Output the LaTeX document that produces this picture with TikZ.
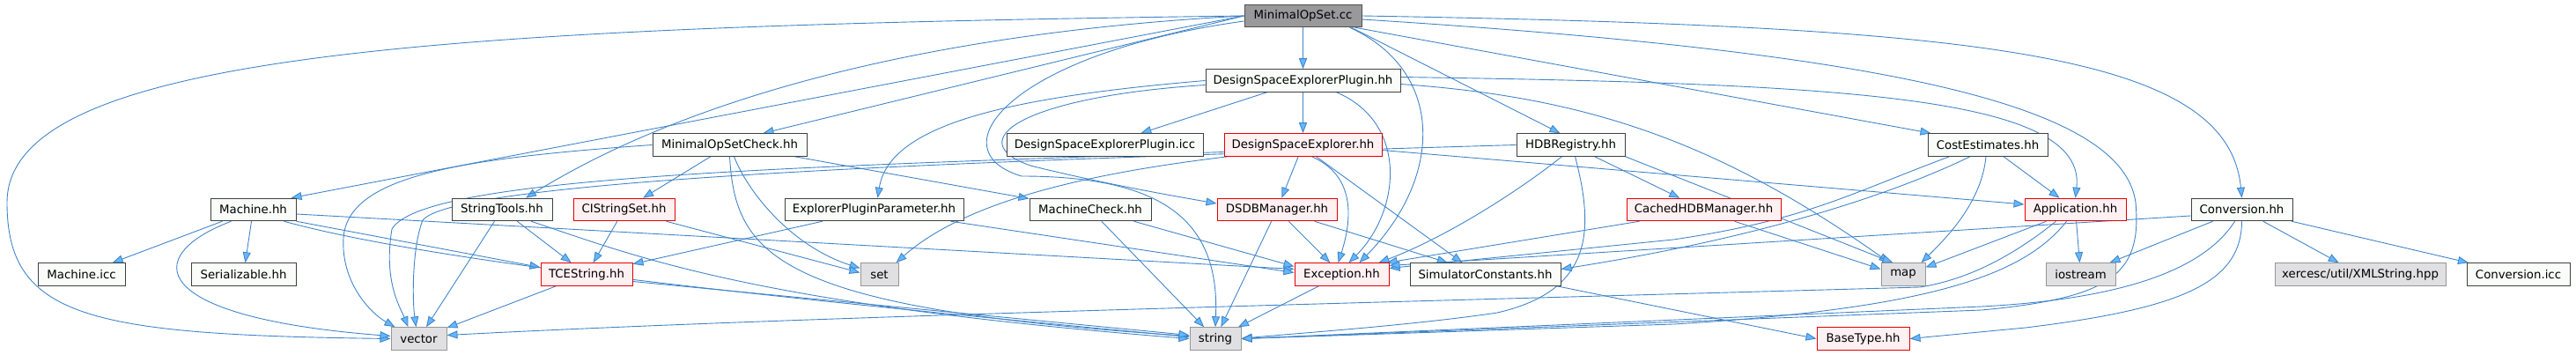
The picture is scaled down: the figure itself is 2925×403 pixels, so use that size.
\documentclass[tikz,border=0pt]{standalone}
\usepackage{fontspec}
\setmainfont{DejaVu Sans}
\usetikzlibrary{arrows.meta,calc}
\definecolor{dedge}{RGB}{66,133,200}
\definecolor{dtip}{RGB}{99,184,255}
\definecolor{dbord}{RGB}{64,64,64}
\definecolor{dfill}{RGB}{250,252,250}
\definecolor{rbord}{RGB}{230,0,0}
\definecolor{rfill}{RGB}{255,240,242}
\definecolor{sbord}{RGB}{150,150,150}
\definecolor{sfill}{RGB}{224,224,226}
\definecolor{tfill}{RGB}{153,153,155}
\definecolor{tbord}{RGB}{80,80,80}
\tikzset{
  incgraph/.style={x=1pt,y=-1pt,font=\fontsize{13.3}{16}\selectfont},
  hdr/.style={draw=dbord,fill=dfill,line width=1pt,minimum height=25.5pt,inner sep=0pt},
  redhdr/.style={hdr,draw=rbord,fill=rfill},
  syshdr/.style={hdr,draw=sbord,fill=sfill},
  srchdr/.style={hdr,draw=tbord,fill=tfill},
  dep/.style={draw=dedge,line width=0.9pt,-{Triangle[length=12pt,width=9pt,fill=dtip]}}
}
\pgfdeclarelayer{edges}
\pgfsetlayers{edges,main}

\begin{document}
\begin{tikzpicture}[incgraph]
    \useasboundingbox (0,0) rectangle (2925,403);
    % rank 0 and 1
    \node[srchdr,minimum width=133] (top) at (1479.5,18) {MinimalOpSet.cc};
    \node[hdr,minimum width=221] (dsep) at (1479.5,91.5) {DesignSpaceExplorerPlugin.hh};
    % rank 2
    \node[hdr,minimum width=175] (mosc) at (828.5,164.5) {MinimalOpSetCheck.hh};
    \node[hdr,minimum width=223] (dseicc) at (1254.5,164.5) {DesignSpaceExplorerPlugin.icc};
    \node[redhdr,minimum width=179] (dse) at (1479.5,164.5) {DesignSpaceExplorer.hh};
    \node[hdr,minimum width=123] (hdbr) at (1783.5,164.5) {HDBRegistry.hh};
    \node[hdr,minimum width=136] (cost) at (2257,164.5) {CostEstimates.hh};
    % rank 3
    \node[hdr,minimum width=97] (machine) at (287.5,238) {Machine.hh};
    \node[hdr,minimum width=114] (strtools) at (570,238) {StringTools.hh};
    \node[redhdr,minimum width=115] (cistr) at (708.5,238) {CIStringSet.hh};
    \node[hdr,minimum width=203] (epp) at (992.5,238) {ExplorerPluginParameter.hh};
    \node[hdr,minimum width=138] (mcheck) at (1238,238) {MachineCheck.hh};
    \node[redhdr,minimum width=136] (dsdb) at (1450,238) {DSDBManager.hh};
    \node[redhdr,minimum width=175] (chdb) at (1934.5,238) {CachedHDBManager.hh};
    \node[redhdr,minimum width=115] (app) at (2356.5,238) {Application.hh};
    \node[hdr,minimum width=115] (conv) at (2545.5,238) {Conversion.hh};
    % rank 4
    \node[hdr,minimum width=99] (micc) at (92.5,311.5) {Machine.icc};
    \node[hdr,minimum width=119] (serial) at (276.5,311.5) {Serializable.hh};
    \node[redhdr,minimum width=104] (tcestr) at (666,311.5) {TCEString.hh};
    \node[syshdr,minimum width=43] (set) at (998.5,311.5) {set};
    \node[redhdr,minimum width=107] (exc) at (1523.5,311.5) {Exception.hh};
    \node[hdr,minimum width=171] (simc) at (1686.5,311.5) {SimulatorConstants.hh};
    \node[syshdr,minimum width=50] (map) at (2161,311.5) {map};
    \node[syshdr,minimum width=79] (iostream) at (2362.5,311.5) {iostream};
    \node[syshdr,minimum width=194] (xerces) at (2680,311.5) {xercesc/util/XMLString.hpp};
    \node[hdr,minimum width=117] (convicc) at (2859.5,311.5) {Conversion.icc};
    % rank 5
    \node[syshdr,minimum width=63] (vector) at (475.5,384.5) {vector};
    \node[syshdr,minimum width=58] (string) at (1380,384.5) {string};
    \node[redhdr,minimum width=105] (basetype) at (2115.5,384.5) {BaseType.hh};

    \begin{pgfonlayer}{edges}
    \foreach \a/\b in {top/dsep, dsep/dseicc, dsep/dse, dse/dsdb, mosc/cistr, mosc/mcheck,
        hdbr/chdb, cost/app, app/iostream, conv/iostream, conv/xerces, conv/convicc,
        machine/micc, machine/serial, strtools/vector, strtools/tcestr, cistr/tcestr,
        epp/tcestr, mcheck/string, dsdb/string, dsdb/exc, dsdb/simc, exc/string, tcestr/vector}
      \draw[dep] (\a) -- (\b);
    % MinimalOpSet.cc
    \draw[dep] (top.west) .. controls (500,30) and (8,60) .. (8,230) .. controls (8,360) and (100,380) .. (vector.west);
    \draw[dep] (top.west) -- ($(machine.north east)+(-6,0)$);
    \draw[dep] (top.west) .. controls (1000,40) and (750,130) .. ($(strtools.north)+(27,0)$);
    \draw[dep] (top.west) -- ($(mosc.north)+(38,0)$);
    \draw[dep] ($(top.west)+(0,6)$) .. controls (1150,60) and (1060,170) .. (1160,200) .. controls (1320,200) and (1385,250) .. (string.north);
    \draw[dep] ($(top.south east)+(-14,0)$) .. controls (1640,80) and (1640,200) .. ($(exc.north)+(20,0)$);
    \draw[dep] ($(top.south east)+(-12,0)$) -- ($(hdbr.north)+(-12,0)$);
    \draw[dep] ($(top.south east)+(-8,0)$) -- ($(cost.north west)+(4,0)$);
    \draw[dep] (top.east) .. controls (2250,30) and (2530,60) .. (conv.north);
    \draw[dep] ($(top.east)+(0,4)$) .. controls (2150,60) and (2410,120) .. (2425,230) .. controls (2432,310) and (2400,338) .. (2250,352) -- (string.east);
    % DesignSpaceExplorerPlugin.hh
    \draw[dep] (dsep.west) .. controls (1150,110) and (1010,140) .. ($(epp.north)+(4,0)$);
    \draw[dep] ($(dsep.west)+(0,5)$) .. controls (1160,110) and (1090,160) .. (1170,188) .. controls (1250,208) and (1330,222) .. ($(dsdb.west)+(0,-7)$);
    \draw[dep] ($(dsep.south)+(38,0)$) .. controls (1600,140) and (1590,240) .. ($(exc.north)+(8,0)$);
    \draw[dep] ($(dsep.east)+(0,-4)$) .. controls (2100,95) and (2370,110) .. (app.north);
    \draw[dep] ($(dsep.east)+(0,4)$) .. controls (1800,110) and (1950,160) .. ($(map.north west)+(10,0)$);
    % DesignSpaceExplorer.hh
    \draw[dep] ($(dse.south)+(10,0)$) .. controls (1540,200) and (1535,250) .. ($(exc.north)+(-4,0)$);
    \draw[dep] ($(dse.south)+(15,0)$) -- ($(simc.north)+(-26,0)$);
    \draw[dep] ($(dse.south west)+(5,0)$) .. controls (1250,195) and (1100,225) .. ($(set.north east)+(-3,0)$);
    \draw[dep] ($(dse.west)+(0,8)$) .. controls (900,190) and (480,200) .. (445,260) .. controls (435,320) and (455,350) .. ($(vector.north)+(-12,0)$);
    \draw[dep] ($(dse.east)+(0,6)$) -- ($(app.west)+(0,-6)$);
    % MinimalOpSetCheck.hh
    \draw[dep] ($(mosc.south)+(5,0)$) .. controls (850,220) and (900,280) .. ($(set.west)+(0,-7)$);
    \draw[dep] (mosc.south) .. controls (835,290) and (880,350) .. ($(string.west)+(0,-3)$);
    \draw[dep] (mosc.west) .. controls (520,180) and (395,200) .. (390,270) .. controls (387,320) and (420,355) .. ($(vector.north west)+(5,0)$);
    % HDBRegistry.hh
    \draw[dep] ($(hdbr.south)+(-10,0)$) .. controls (1720,220) and (1640,270) .. ($(exc.north east)+(-12,0)$);
    \draw[dep] ($(hdbr.south)+(5,0)$) .. controls (1810,260) and (1810,330) .. (1700,355) .. controls (1600,370) and (1450,380) .. (string.east);
    \draw[dep] (hdbr.south east) -- ($(map.north west)+(14,0)$);
    \draw[dep] (hdbr.west) .. controls (1200,180) and (520,200) .. (480,250) .. controls (468,280) and (468,340) .. ($(vector.north)+(-3,0)$);
    % CachedHDBManager.hh
    \draw[dep] ($(chdb.south)+(35,0)$) -- ($(map.west)+(0,-6)$);
    \draw[dep] ($(chdb.south west)+(15,0)$) -- ($(exc.north east)+(-3,0)$);
    % CostEstimates.hh
    \draw[dep] ($(cost.south)+(-2,0)$) .. controls (2250,230) and (2210,270) .. ($(map.north east)+(-5,0)$);
    \draw[dep] ($(cost.south west)+(25,0)$) .. controls (2100,220) and (2050,250) .. (1900,272) -- ($(exc.east)+(0,-7)$);
    \draw[dep] ($(cost.south)+(-20,0)$) .. controls (2150,220) and (2000,270) .. ($(simc.east)+(0,-6)$);
    % Application.hh
    \draw[dep] ($(app.south west)+(25,0)$) -- ($(map.east)+(0,-8)$);
    \draw[dep] ($(app.south)+(-22,0)$) .. controls (2280,295) and (2230,318) .. (2180,326) .. controls (1500,345) and (900,360) .. ($(vector.east)+(0,-4)$);
    \draw[dep] ($(app.south)+(-10,0)$) .. controls (2300,310) and (2200,350) .. (1900,368) -- (string.east);
    % Conversion.hh
    \draw[dep] ($(conv.west)+(0,7)$) -- ($(exc.east)+(0,-10)$);
    \draw[dep] ($(conv.south)+(-8,0)$) .. controls (2500,310) and (2400,340) .. (2250,348) -- (string.east);
    \draw[dep] (conv.south) .. controls (2545,320) and (2480,350) .. (2300,372) -- (basetype.east);
    % Machine.hh
    \draw[dep] ($(machine.south)+(-25,0)$) .. controls (160,290) and (165,360) .. ($(vector.west)+(0,-3)$);
    \draw[dep] (machine.south east) -- ($(tcestr.west)+(0,-8)$);
    \draw[dep] ($(machine.east)+(0,5)$) -- ($(exc.west)+(0,-6)$);
    \draw[dep] ($(machine.south east)+(-14,0)$) .. controls (500,300) and (900,340) .. ($(string.west)+(0,-2)$);
    % the rest
    \draw[dep] ($(strtools.south)+(33,0)$) .. controls (720,290) and (850,345) .. (string.west);
    \draw[dep] ($(cistr.south east)+(-10,0)$) -- ($(set.west)+(0,-2)$);
    \draw[dep] ($(epp.south east)+(-15,0)$) -- ($(exc.west)+(0,-2)$);
    \draw[dep] ($(mcheck.south east)+(-20,0)$) -- ($(exc.west)+(0,-9)$);
    \draw[dep] ($(tcestr.east)+(0,8)$) -- ($(string.west)+(0,-4)$);
    \draw[dep] ($(simc.south east)+(-5,0)$) -- (basetype.west);
    \end{pgfonlayer}
  \end{tikzpicture}
\end{document}
